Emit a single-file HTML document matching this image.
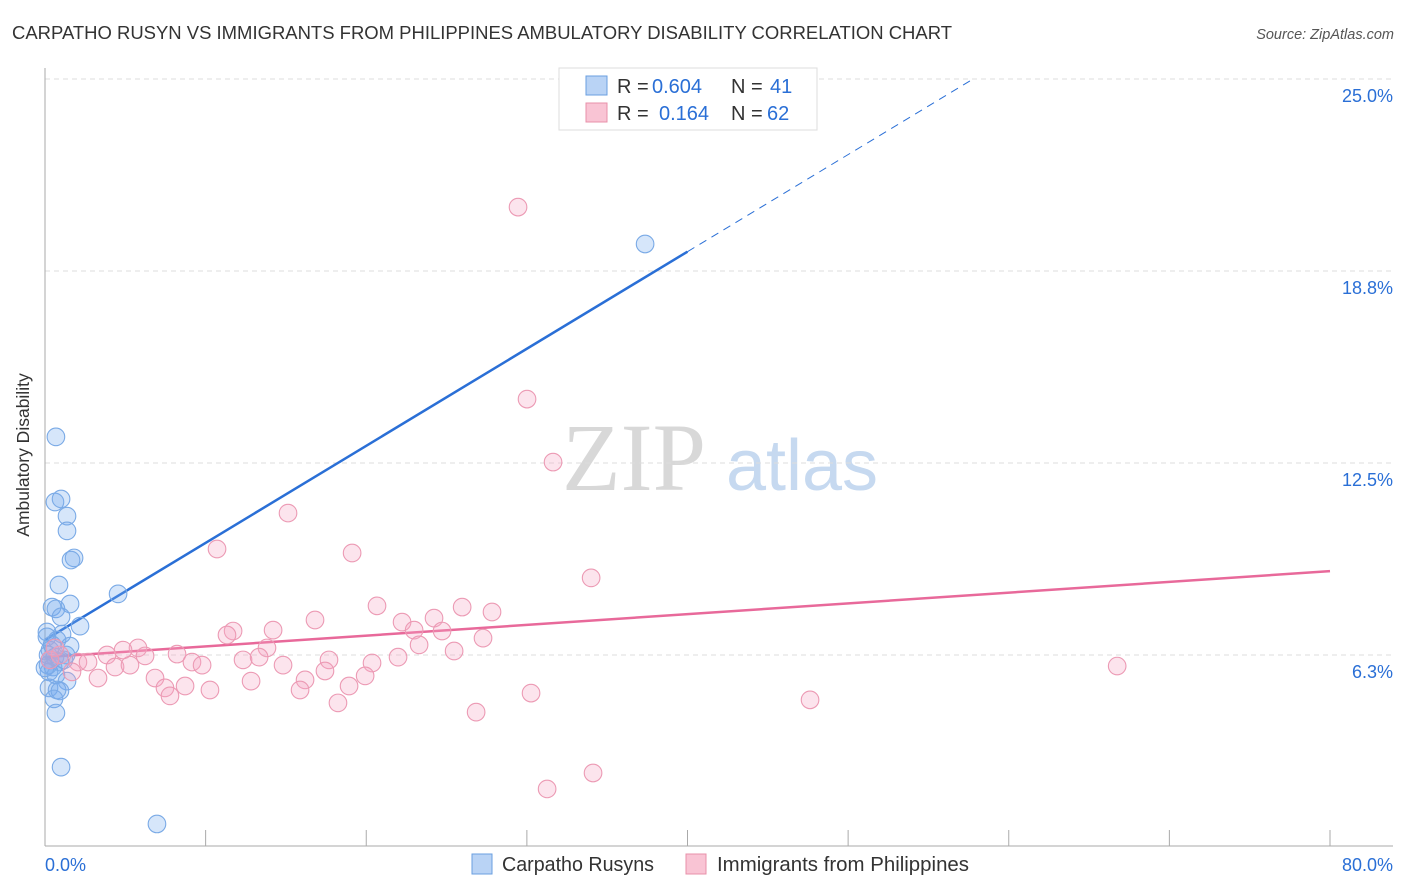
<!DOCTYPE html>
<html><head><meta charset="utf-8"><style>
body{margin:0;background:#fff;font-family:"Liberation Sans",sans-serif;}
svg{display:block}
</style></head><body>
<svg id="chart" width="1406" height="892">
<text x="12" y="39" font-size="18.4" fill="#333" textLength="940" lengthAdjust="spacingAndGlyphs">CARPATHO RUSYN VS IMMIGRANTS FROM PHILIPPINES AMBULATORY DISABILITY CORRELATION CHART</text>
<text x="1394" y="39" font-size="14.5" fill="#555" font-style="italic" text-anchor="end">Source: ZipAtlas.com</text>
<text x="29" y="455" font-size="17.5" fill="#333" text-anchor="middle" transform="rotate(-90 29 455)">Ambulatory Disability</text>
<g>
<text x="634" y="490" font-size="96" fill="#d8d8d8" font-family="Liberation Serif,serif" text-anchor="middle">ZIP</text>
<text x="802" y="490" font-size="72" fill="#c6d9f0" text-anchor="middle">atlas</text>
</g>
<g id="grid"></g><g id="axes"></g><g id="lines"></g><g id="pts"></g>
<g>
<rect x="559" y="68" width="258" height="62" fill="#fff" stroke="#ddd"/>
<rect x="586" y="76" width="21" height="19" fill="#b9d3f5" stroke="#6a9fe0"/>
<rect x="586" y="103" width="21" height="19" fill="#f9c4d4" stroke="#e890aa"/>
<text x="617" y="93" font-size="20" fill="#333">R = <tspan x="652" fill="#2a6fd6">0.604</tspan><tspan x="731">N = </tspan><tspan x="770" fill="#2a6fd6">41</tspan></text>
<text x="617" y="120" font-size="20" fill="#333">R = <tspan x="659" fill="#2a6fd6">0.164</tspan><tspan x="731">N = </tspan><tspan x="767" fill="#2a6fd6">62</tspan></text>
</g>
<g>
<rect x="472" y="854" width="20" height="20" fill="#b9d3f5" stroke="#6a9fe0"/>
<text x="502" y="871" font-size="20" fill="#333" textLength="152" lengthAdjust="spacingAndGlyphs">Carpatho Rusyns</text>
<rect x="686" y="854" width="20" height="20" fill="#f9c4d4" stroke="#e890aa"/>
<text x="717" y="871" font-size="20" fill="#333" textLength="252" lengthAdjust="spacingAndGlyphs">Immigrants from Philippines</text>
</g>
</svg>
<script>
const yTicks=[25,18.75,12.5,6.25];
const yTickLabels=["25.0%","18.8%","12.5%","6.3%"];
const xTicks=[0,10,20,30,40,50,60,70,80];
const xLabels=["0.0%","80.0%"];
const blueX=[0.68,0.62,1.0,1.37,1.37,1.81,1.62,0.87,4.55,0.44,0.68,1.56,1.0,2.18,0.12,1.06,0.75,1.56,0.31,0.19,0.62,1.31,0.31,0.93,0.19,0.5,0.25,0.68,1.37,0.25,0.75,0.93,0.56,0.68,1.0,6.97,37.36,0.12,0.44,1.18,0.0];
const blueY=[13.35,11.23,11.33,10.77,10.29,9.41,9.34,8.53,8.24,7.81,7.75,7.91,7.49,7.19,7.0,6.93,6.74,6.54,6.41,6.25,6.18,6.25,6.09,6.02,5.92,5.86,5.7,5.6,5.4,5.18,5.11,5.08,4.82,4.36,2.6,0.75,19.63,6.84,6.58,6.09,5.83];
const pinkX=[29.45,30.01,31.63,15.13,10.71,19.12,34.0,20.67,25.97,27.83,16.81,22.23,24.22,11.71,11.33,14.2,22.98,24.72,27.27,23.29,5.79,4.86,3.86,13.82,8.22,6.23,0.93,25.47,2.05,2.68,4.36,5.29,9.15,9.78,12.33,13.33,14.82,17.68,20.36,21.98,1.68,3.3,6.85,7.47,8.72,10.27,12.83,16.19,17.43,19.93,18.93,15.88,18.24,7.78,30.26,26.84,47.63,66.75,34.12,31.26,0.31,0.62];
const pinkY=[20.83,14.58,12.53,10.87,9.7,9.57,8.76,7.85,7.81,7.65,7.39,7.32,7.45,7.03,6.9,7.06,7.06,7.03,6.8,6.58,6.48,6.41,6.25,6.48,6.28,6.22,6.25,6.38,6.02,6.02,5.86,5.92,6.02,5.92,6.09,6.18,5.92,6.09,5.99,6.18,5.7,5.5,5.5,5.18,5.24,5.11,5.4,5.44,5.73,5.57,5.24,5.11,4.69,4.92,5.01,4.39,4.79,5.89,2.41,1.89,6.09,6.48];
const blueTrend=[6.74,0.316];
const pinkTrend=[6.18,0.035];
const blueSolidEnd=[40];
const blueDashEnd=[57.6];
const pinkEnd=[80];

const NS="http://www.w3.org/2000/svg";
const X=v=>45+v*(1330-45)/80;
const Y=v=>847-v*30.72;
function mk(parent,tag,attrs){const e=document.createElementNS(NS,tag);for(const k in attrs)e.setAttribute(k,attrs[k]);document.getElementById(parent).appendChild(e);return e;}
yTicks.forEach((t,i)=>{
 const g=mk('grid','line',{x1:45,x2:1393,y1:Y(t),y2:Y(t),stroke:'#ddd','stroke-dasharray':'5,4'});
 
 
 const l=mk('grid','text',{x:1393,y:Y(t)+23,'font-size':18,fill:'#2a6fd6','text-anchor':'end'});
 l.textContent=yTickLabels[i];
 
 
});
let a=mk('axes','line',{x1:45,x2:45,y1:68,y2:846,stroke:'#aaa'});


a=mk('axes','line',{x1:45,x2:1393,y1:846,y2:846,stroke:'#aaa'});


xTicks.forEach(t=>{
 const tk=mk('axes','line',{x1:X(t),x2:X(t),y1:830,y2:846,stroke:'#aaa'});
 
 
});
let xl=mk('axes','text',{x:45,y:871,'font-size':18,fill:'#2a6fd6'});xl.textContent=xLabels[0];


xl=mk('axes','text',{x:1393,y:871,'font-size':18,fill:'#2a6fd6','text-anchor':'end'});xl.textContent=xLabels[1];


blueX.forEach((x,i)=>{
 const c=mk('pts','circle',{cx:X(x),cy:Y(blueY[i]),r:8.8,fill:'rgba(120,172,238,0.3)',stroke:'#7aaae6','stroke-width':1.1});
 
 
});
pinkX.forEach((x,i)=>{
 const c=mk('pts','circle',{cx:X(x),cy:Y(pinkY[i]),r:8.8,fill:'rgba(245,165,195,0.3)',stroke:'#ec9ab4','stroke-width':1.1});
 
 
});
const bt=x=>blueTrend[0]+blueTrend[1]*x, pt=x=>pinkTrend[0]+pinkTrend[1]*x;
let ln=mk('lines','line',{x1:X(0),y1:Y(bt(0)),x2:X(blueSolidEnd[0]),y2:Y(bt(blueSolidEnd[0])),stroke:'#2a6fd6','stroke-width':2.5});


ln=mk('lines','line',{x1:X(blueSolidEnd[0]),y1:Y(bt(blueSolidEnd[0])),x2:X(blueDashEnd[0]),y2:Y(bt(blueDashEnd[0])),stroke:'#2a6fd6','stroke-width':1,'stroke-dasharray':'8,6'});


ln=mk('lines','line',{x1:X(0),y1:Y(pt(0)),x2:X(pinkEnd[0]),y2:Y(pt(pinkEnd[0])),stroke:'#e8699a','stroke-width':2.5});


</script>
</body></html>
